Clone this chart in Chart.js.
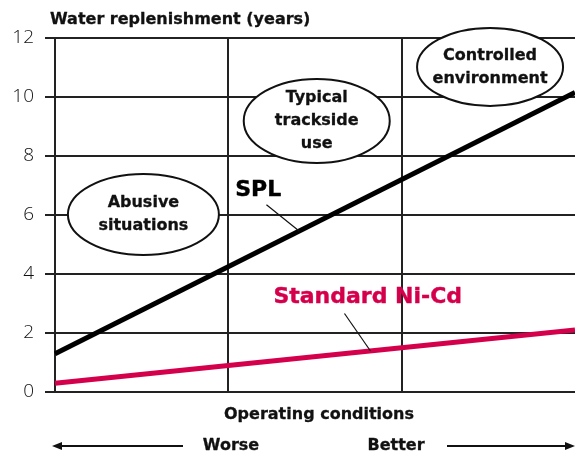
<!DOCTYPE html>
<html>
<head>
<meta charset="utf-8">
<script src="https://cdn.jsdelivr.net/npm/chart.js@4.4.1/dist/chart.umd.min.js"></script>
<style>
html,body{margin:0;padding:0;background:#fff;}
#wrap{width:575px;height:456px;position:relative;}
</style>
</head>
<body>
<div id="wrap"><canvas id="c" width="575" height="456"></canvas></div>
<script>
// ---- data ----
const conditions = [0, 3];              // worse -> better (position along x)
const splValues  = [1.3, 10.15];        // SPL water replenishment (years)
const nicdValues = [0.3, 2.1];          // Standard Ni-Cd (years)
const yTickValues = [0, 2, 4, 6, 8, 10, 12];
const yTitle = 'Water replenishment (years)';
const xTitle = 'Operating conditions';
const zones = [
  {x: 0.51, y: 6.02, lines: ['Abusive', 'situations']},
  {x: 1.51, y: 9.19, lines: ['Typical', 'trackside', 'use']},
  {x: 2.51, y: 11.02, lines: ['Controlled', 'environment']}
];
const seriesLabels = [
  {text: 'SPL', x: 1.04, y: 6.85, color: '#000', from: [1.22, 6.35], to: [1.41, 5.45]},
  {text: 'Standard Ni-Cd', x: 1.26, y: 3.2, color: '#d4004c', from: [1.67, 2.66], to: [1.82, 1.39]}
];

const BOLD = '"DejaVu Sans", "Liberation Sans", sans-serif';

const pts = (vals) => conditions.map((c, i) => ({x: c, y: vals[i]}));

function heavyText(ctx, t, px, py, color, sw) {
  ctx.fillStyle = color;
  ctx.strokeStyle = color;
  ctx.lineWidth = sw;
  ctx.lineJoin = 'round';
  ctx.fillText(t, px, py);
  ctx.strokeText(t, px, py);
}

const annot = {
  id: 'annot',
  beforeDatasetsDraw(chart) {
    const {ctx, scales: {x, y}} = chart;
    ctx.save();
    const radii = [[75.5, 40.5], [73, 42], [73, 39]];
    zones.forEach((z, i) => {
      const cx = x.getPixelForValue(z.x), cy = y.getPixelForValue(z.y);
      ctx.beginPath();
      ctx.ellipse(cx, cy, radii[i][0], radii[i][1], 0, 0, Math.PI * 2);
      ctx.fillStyle = '#fff';
      ctx.fill();
      ctx.lineWidth = 2;
      ctx.strokeStyle = '#111';
      ctx.stroke();
      ctx.font = 'bold 16px ' + BOLD;
      ctx.textAlign = 'center';
      ctx.textBaseline = 'middle';
      const lh = 23;
      const n = z.lines.length;
      z.lines.forEach((t, k) => {
        heavyText(ctx, t, cx, cy + (k - (n - 1) / 2) * lh, '#111', 0.3);
      });
    });
    ctx.restore();
  },
  afterDatasetsDraw(chart) {
    const {ctx, scales: {x, y}, chartArea} = chart;
    ctx.save();
    // series labels + leader lines
    seriesLabels.forEach(s => {
      ctx.font = 'bold 22px ' + BOLD;
      ctx.textAlign = 'left';
      ctx.textBaseline = 'middle';
      heavyText(ctx, s.text, x.getPixelForValue(s.x), y.getPixelForValue(s.y), s.color, 0.4);
      ctx.beginPath();
      ctx.moveTo(x.getPixelForValue(s.from[0]), y.getPixelForValue(s.from[1]));
      ctx.lineTo(x.getPixelForValue(s.to[0]), y.getPixelForValue(s.to[1]));
      ctx.lineWidth = 1.2;
      ctx.strokeStyle = '#111';
      ctx.stroke();
    });
    // y title
    ctx.font = 'bold 16px ' + BOLD;
    ctx.textAlign = 'left';
    ctx.textBaseline = 'alphabetic';
    heavyText(ctx, yTitle, chartArea.left - 5, 24, '#111', 0.3);
    // x title
    ctx.textAlign = 'center';
    ctx.textBaseline = 'middle';
    heavyText(ctx, xTitle, 319, 415, '#111', 0.3);
    heavyText(ctx, 'Worse', 231, 446, '#111', 0.3);
    heavyText(ctx, 'Better', 396, 446, '#111', 0.3);
    // arrows
    ctx.fillStyle = '#111';
    ctx.lineWidth = 2;
    ctx.strokeStyle = '#111';
    ctx.beginPath(); ctx.moveTo(183, 446); ctx.lineTo(58, 446); ctx.stroke();
    ctx.beginPath(); ctx.moveTo(52, 446); ctx.lineTo(62, 442); ctx.lineTo(62, 450); ctx.closePath(); ctx.fill();
    ctx.beginPath(); ctx.moveTo(447, 446); ctx.lineTo(569, 446); ctx.stroke();
    ctx.beginPath(); ctx.moveTo(575, 446); ctx.lineTo(565, 442); ctx.lineTo(565, 450); ctx.closePath(); ctx.fill();
    ctx.restore();
  }
};

new Chart(document.getElementById('c'), {
  type: 'line',
  data: {
    datasets: [
      {label: 'SPL', data: pts(splValues), borderColor: '#000', borderWidth: 5, pointRadius: 0, borderCapStyle: 'butt', clip: false},
      {label: 'Standard Ni-Cd', data: pts(nicdValues), borderColor: '#d4004c', borderWidth: 5, pointRadius: 0, borderCapStyle: 'butt', clip: false}
    ]
  },
  options: {
    responsive: false,
    animation: false,
    layout: {padding: {top: 38, left: 0, right: 0, bottom: 0}},
    plugins: {legend: {display: false}, tooltip: {enabled: false}, title: {display: false}},
    scales: {
      x: {
        type: 'linear', min: 0, max: 3,
        ticks: {display: false, stepSize: 1},
        grid: {color: (c) => c.tick && c.tick.value === 3 ? 'rgba(0,0,0,0)' : '#222', lineWidth: 2, drawTicks: false},
        border: {display: true, color: '#222', width: 2},
        afterFit: (s) => { s.height = 64; }
      },
      y: {
        min: 0, max: 12,
        afterBuildTicks: (s) => { s.ticks = yTickValues.map(v => ({value: v})); },
        ticks: {color: '#111', font: {family: '"Open Sans", "DejaVu Sans", sans-serif', size: 19, weight: 300}, padding: 11},
        grid: {color: '#222', lineWidth: 2, tickLength: 10},
        border: {display: true, color: '#222', width: 2},
        afterFit: (s) => { s.width = 55; }
      }
    }
  },
  plugins: [annot]
});
</script>
</body>
</html>
